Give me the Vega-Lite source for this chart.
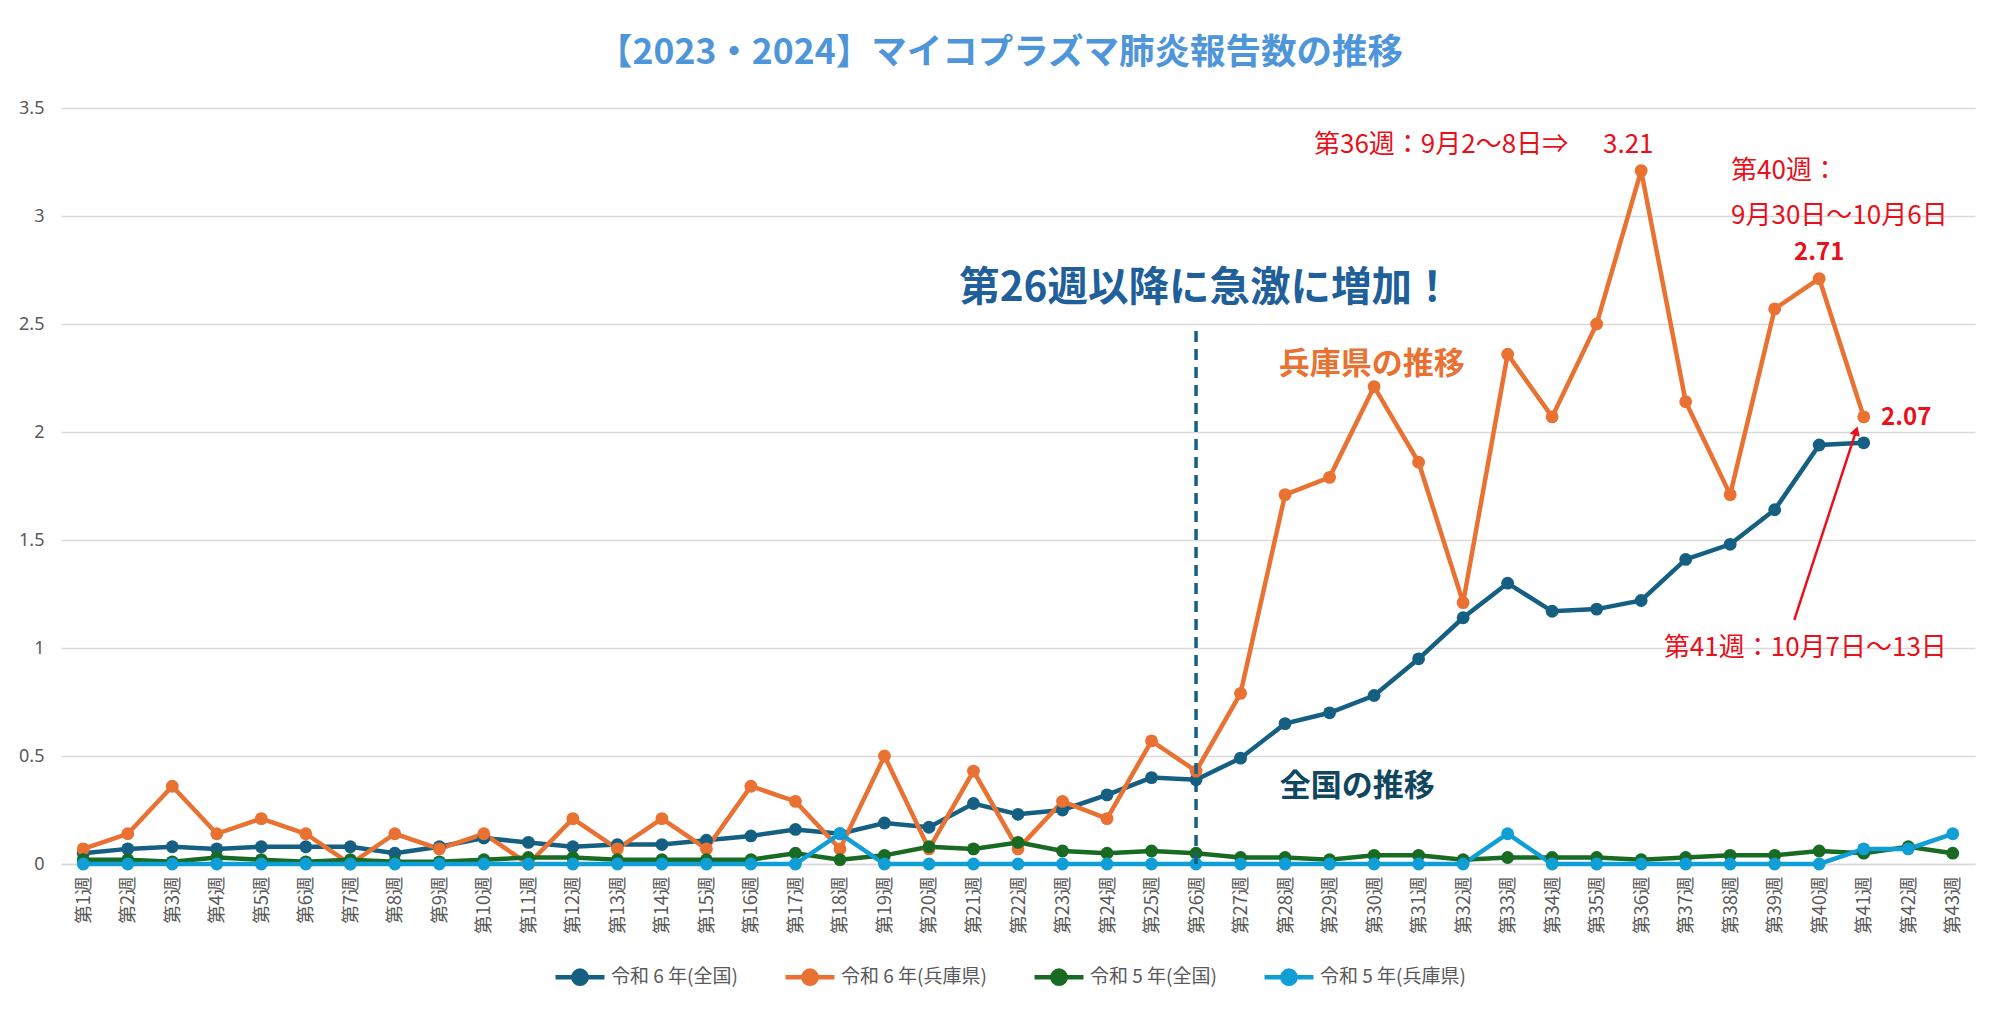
{
  "$schema": "https://vega.github.io/schema/vega-lite/v6.json",
  "width": 1914,
  "height": 756,
  "autosize": "none",
  "padding": {"left": 61, "top": 108, "right": 25, "bottom": 145},
  "background": "white",
  "title": {
    "text": "【2023・2024】マイコプラズマ肺炎報告数の推移",
    "font": "Noto Sans CJK JP",
    "fontSize": 35.5,
    "fontWeight": "bold",
    "color": "#4E95D9",
    "anchor": "middle",
    "dx": -18,
    "offset": 28
  },
  "config": {
    "view": {"stroke": null},
    "font": "Noto Sans CJK JP"
  },
  "datasets": {
    "series": [
      {"week":"第1週","wk":1,"series":"令和 6 年(全国)","value":0.05},
      {"week":"第2週","wk":2,"series":"令和 6 年(全国)","value":0.07},
      {"week":"第3週","wk":3,"series":"令和 6 年(全国)","value":0.08},
      {"week":"第4週","wk":4,"series":"令和 6 年(全国)","value":0.07},
      {"week":"第5週","wk":5,"series":"令和 6 年(全国)","value":0.08},
      {"week":"第6週","wk":6,"series":"令和 6 年(全国)","value":0.08},
      {"week":"第7週","wk":7,"series":"令和 6 年(全国)","value":0.08},
      {"week":"第8週","wk":8,"series":"令和 6 年(全国)","value":0.05},
      {"week":"第9週","wk":9,"series":"令和 6 年(全国)","value":0.08},
      {"week":"第10週","wk":10,"series":"令和 6 年(全国)","value":0.12},
      {"week":"第11週","wk":11,"series":"令和 6 年(全国)","value":0.10},
      {"week":"第12週","wk":12,"series":"令和 6 年(全国)","value":0.08},
      {"week":"第13週","wk":13,"series":"令和 6 年(全国)","value":0.09},
      {"week":"第14週","wk":14,"series":"令和 6 年(全国)","value":0.09},
      {"week":"第15週","wk":15,"series":"令和 6 年(全国)","value":0.11},
      {"week":"第16週","wk":16,"series":"令和 6 年(全国)","value":0.13},
      {"week":"第17週","wk":17,"series":"令和 6 年(全国)","value":0.16},
      {"week":"第18週","wk":18,"series":"令和 6 年(全国)","value":0.14},
      {"week":"第19週","wk":19,"series":"令和 6 年(全国)","value":0.19},
      {"week":"第20週","wk":20,"series":"令和 6 年(全国)","value":0.17},
      {"week":"第21週","wk":21,"series":"令和 6 年(全国)","value":0.28},
      {"week":"第22週","wk":22,"series":"令和 6 年(全国)","value":0.23},
      {"week":"第23週","wk":23,"series":"令和 6 年(全国)","value":0.25},
      {"week":"第24週","wk":24,"series":"令和 6 年(全国)","value":0.32},
      {"week":"第25週","wk":25,"series":"令和 6 年(全国)","value":0.40},
      {"week":"第26週","wk":26,"series":"令和 6 年(全国)","value":0.39},
      {"week":"第27週","wk":27,"series":"令和 6 年(全国)","value":0.49},
      {"week":"第28週","wk":28,"series":"令和 6 年(全国)","value":0.65},
      {"week":"第29週","wk":29,"series":"令和 6 年(全国)","value":0.70},
      {"week":"第30週","wk":30,"series":"令和 6 年(全国)","value":0.78},
      {"week":"第31週","wk":31,"series":"令和 6 年(全国)","value":0.95},
      {"week":"第32週","wk":32,"series":"令和 6 年(全国)","value":1.14},
      {"week":"第33週","wk":33,"series":"令和 6 年(全国)","value":1.30},
      {"week":"第34週","wk":34,"series":"令和 6 年(全国)","value":1.17},
      {"week":"第35週","wk":35,"series":"令和 6 年(全国)","value":1.18},
      {"week":"第36週","wk":36,"series":"令和 6 年(全国)","value":1.22},
      {"week":"第37週","wk":37,"series":"令和 6 年(全国)","value":1.41},
      {"week":"第38週","wk":38,"series":"令和 6 年(全国)","value":1.48},
      {"week":"第39週","wk":39,"series":"令和 6 年(全国)","value":1.64},
      {"week":"第40週","wk":40,"series":"令和 6 年(全国)","value":1.94},
      {"week":"第41週","wk":41,"series":"令和 6 年(全国)","value":1.95},

      {"week":"第1週","wk":1,"series":"令和 6 年(兵庫県)","value":0.07},
      {"week":"第2週","wk":2,"series":"令和 6 年(兵庫県)","value":0.14},
      {"week":"第3週","wk":3,"series":"令和 6 年(兵庫県)","value":0.36},
      {"week":"第4週","wk":4,"series":"令和 6 年(兵庫県)","value":0.14},
      {"week":"第5週","wk":5,"series":"令和 6 年(兵庫県)","value":0.21},
      {"week":"第6週","wk":6,"series":"令和 6 年(兵庫県)","value":0.14},
      {"week":"第7週","wk":7,"series":"令和 6 年(兵庫県)","value":0.0},
      {"week":"第8週","wk":8,"series":"令和 6 年(兵庫県)","value":0.14},
      {"week":"第9週","wk":9,"series":"令和 6 年(兵庫県)","value":0.07},
      {"week":"第10週","wk":10,"series":"令和 6 年(兵庫県)","value":0.14},
      {"week":"第11週","wk":11,"series":"令和 6 年(兵庫県)","value":0.0},
      {"week":"第12週","wk":12,"series":"令和 6 年(兵庫県)","value":0.21},
      {"week":"第13週","wk":13,"series":"令和 6 年(兵庫県)","value":0.07},
      {"week":"第14週","wk":14,"series":"令和 6 年(兵庫県)","value":0.21},
      {"week":"第15週","wk":15,"series":"令和 6 年(兵庫県)","value":0.07},
      {"week":"第16週","wk":16,"series":"令和 6 年(兵庫県)","value":0.36},
      {"week":"第17週","wk":17,"series":"令和 6 年(兵庫県)","value":0.29},
      {"week":"第18週","wk":18,"series":"令和 6 年(兵庫県)","value":0.07},
      {"week":"第19週","wk":19,"series":"令和 6 年(兵庫県)","value":0.50},
      {"week":"第20週","wk":20,"series":"令和 6 年(兵庫県)","value":0.07},
      {"week":"第21週","wk":21,"series":"令和 6 年(兵庫県)","value":0.43},
      {"week":"第22週","wk":22,"series":"令和 6 年(兵庫県)","value":0.07},
      {"week":"第23週","wk":23,"series":"令和 6 年(兵庫県)","value":0.29},
      {"week":"第24週","wk":24,"series":"令和 6 年(兵庫県)","value":0.21},
      {"week":"第25週","wk":25,"series":"令和 6 年(兵庫県)","value":0.57},
      {"week":"第26週","wk":26,"series":"令和 6 年(兵庫県)","value":0.43},
      {"week":"第27週","wk":27,"series":"令和 6 年(兵庫県)","value":0.79},
      {"week":"第28週","wk":28,"series":"令和 6 年(兵庫県)","value":1.71},
      {"week":"第29週","wk":29,"series":"令和 6 年(兵庫県)","value":1.79},
      {"week":"第30週","wk":30,"series":"令和 6 年(兵庫県)","value":2.21},
      {"week":"第31週","wk":31,"series":"令和 6 年(兵庫県)","value":1.86},
      {"week":"第32週","wk":32,"series":"令和 6 年(兵庫県)","value":1.21},
      {"week":"第33週","wk":33,"series":"令和 6 年(兵庫県)","value":2.36},
      {"week":"第34週","wk":34,"series":"令和 6 年(兵庫県)","value":2.07},
      {"week":"第35週","wk":35,"series":"令和 6 年(兵庫県)","value":2.50},
      {"week":"第36週","wk":36,"series":"令和 6 年(兵庫県)","value":3.21},
      {"week":"第37週","wk":37,"series":"令和 6 年(兵庫県)","value":2.14},
      {"week":"第38週","wk":38,"series":"令和 6 年(兵庫県)","value":1.71},
      {"week":"第39週","wk":39,"series":"令和 6 年(兵庫県)","value":2.57},
      {"week":"第40週","wk":40,"series":"令和 6 年(兵庫県)","value":2.71},
      {"week":"第41週","wk":41,"series":"令和 6 年(兵庫県)","value":2.07},

      {"week":"第1週","wk":1,"series":"令和 5 年(全国)","value":0.02},
      {"week":"第2週","wk":2,"series":"令和 5 年(全国)","value":0.02},
      {"week":"第3週","wk":3,"series":"令和 5 年(全国)","value":0.01},
      {"week":"第4週","wk":4,"series":"令和 5 年(全国)","value":0.03},
      {"week":"第5週","wk":5,"series":"令和 5 年(全国)","value":0.02},
      {"week":"第6週","wk":6,"series":"令和 5 年(全国)","value":0.01},
      {"week":"第7週","wk":7,"series":"令和 5 年(全国)","value":0.02},
      {"week":"第8週","wk":8,"series":"令和 5 年(全国)","value":0.01},
      {"week":"第9週","wk":9,"series":"令和 5 年(全国)","value":0.01},
      {"week":"第10週","wk":10,"series":"令和 5 年(全国)","value":0.02},
      {"week":"第11週","wk":11,"series":"令和 5 年(全国)","value":0.03},
      {"week":"第12週","wk":12,"series":"令和 5 年(全国)","value":0.03},
      {"week":"第13週","wk":13,"series":"令和 5 年(全国)","value":0.02},
      {"week":"第14週","wk":14,"series":"令和 5 年(全国)","value":0.02},
      {"week":"第15週","wk":15,"series":"令和 5 年(全国)","value":0.02},
      {"week":"第16週","wk":16,"series":"令和 5 年(全国)","value":0.02},
      {"week":"第17週","wk":17,"series":"令和 5 年(全国)","value":0.05},
      {"week":"第18週","wk":18,"series":"令和 5 年(全国)","value":0.02},
      {"week":"第19週","wk":19,"series":"令和 5 年(全国)","value":0.04},
      {"week":"第20週","wk":20,"series":"令和 5 年(全国)","value":0.08},
      {"week":"第21週","wk":21,"series":"令和 5 年(全国)","value":0.07},
      {"week":"第22週","wk":22,"series":"令和 5 年(全国)","value":0.10},
      {"week":"第23週","wk":23,"series":"令和 5 年(全国)","value":0.06},
      {"week":"第24週","wk":24,"series":"令和 5 年(全国)","value":0.05},
      {"week":"第25週","wk":25,"series":"令和 5 年(全国)","value":0.06},
      {"week":"第26週","wk":26,"series":"令和 5 年(全国)","value":0.05},
      {"week":"第27週","wk":27,"series":"令和 5 年(全国)","value":0.03},
      {"week":"第28週","wk":28,"series":"令和 5 年(全国)","value":0.03},
      {"week":"第29週","wk":29,"series":"令和 5 年(全国)","value":0.02},
      {"week":"第30週","wk":30,"series":"令和 5 年(全国)","value":0.04},
      {"week":"第31週","wk":31,"series":"令和 5 年(全国)","value":0.04},
      {"week":"第32週","wk":32,"series":"令和 5 年(全国)","value":0.02},
      {"week":"第33週","wk":33,"series":"令和 5 年(全国)","value":0.03},
      {"week":"第34週","wk":34,"series":"令和 5 年(全国)","value":0.03},
      {"week":"第35週","wk":35,"series":"令和 5 年(全国)","value":0.03},
      {"week":"第36週","wk":36,"series":"令和 5 年(全国)","value":0.02},
      {"week":"第37週","wk":37,"series":"令和 5 年(全国)","value":0.03},
      {"week":"第38週","wk":38,"series":"令和 5 年(全国)","value":0.04},
      {"week":"第39週","wk":39,"series":"令和 5 年(全国)","value":0.04},
      {"week":"第40週","wk":40,"series":"令和 5 年(全国)","value":0.06},
      {"week":"第41週","wk":41,"series":"令和 5 年(全国)","value":0.05},
      {"week":"第42週","wk":42,"series":"令和 5 年(全国)","value":0.08},
      {"week":"第43週","wk":43,"series":"令和 5 年(全国)","value":0.05},

      {"week":"第1週","wk":1,"series":"令和 5 年(兵庫県)","value":0},
      {"week":"第2週","wk":2,"series":"令和 5 年(兵庫県)","value":0},
      {"week":"第3週","wk":3,"series":"令和 5 年(兵庫県)","value":0},
      {"week":"第4週","wk":4,"series":"令和 5 年(兵庫県)","value":0},
      {"week":"第5週","wk":5,"series":"令和 5 年(兵庫県)","value":0},
      {"week":"第6週","wk":6,"series":"令和 5 年(兵庫県)","value":0},
      {"week":"第7週","wk":7,"series":"令和 5 年(兵庫県)","value":0},
      {"week":"第8週","wk":8,"series":"令和 5 年(兵庫県)","value":0},
      {"week":"第9週","wk":9,"series":"令和 5 年(兵庫県)","value":0},
      {"week":"第10週","wk":10,"series":"令和 5 年(兵庫県)","value":0},
      {"week":"第11週","wk":11,"series":"令和 5 年(兵庫県)","value":0},
      {"week":"第12週","wk":12,"series":"令和 5 年(兵庫県)","value":0},
      {"week":"第13週","wk":13,"series":"令和 5 年(兵庫県)","value":0},
      {"week":"第14週","wk":14,"series":"令和 5 年(兵庫県)","value":0},
      {"week":"第15週","wk":15,"series":"令和 5 年(兵庫県)","value":0},
      {"week":"第16週","wk":16,"series":"令和 5 年(兵庫県)","value":0},
      {"week":"第17週","wk":17,"series":"令和 5 年(兵庫県)","value":0},
      {"week":"第18週","wk":18,"series":"令和 5 年(兵庫県)","value":0.14},
      {"week":"第19週","wk":19,"series":"令和 5 年(兵庫県)","value":0},
      {"week":"第20週","wk":20,"series":"令和 5 年(兵庫県)","value":0},
      {"week":"第21週","wk":21,"series":"令和 5 年(兵庫県)","value":0},
      {"week":"第22週","wk":22,"series":"令和 5 年(兵庫県)","value":0},
      {"week":"第23週","wk":23,"series":"令和 5 年(兵庫県)","value":0},
      {"week":"第24週","wk":24,"series":"令和 5 年(兵庫県)","value":0},
      {"week":"第25週","wk":25,"series":"令和 5 年(兵庫県)","value":0},
      {"week":"第26週","wk":26,"series":"令和 5 年(兵庫県)","value":0},
      {"week":"第27週","wk":27,"series":"令和 5 年(兵庫県)","value":0},
      {"week":"第28週","wk":28,"series":"令和 5 年(兵庫県)","value":0},
      {"week":"第29週","wk":29,"series":"令和 5 年(兵庫県)","value":0},
      {"week":"第30週","wk":30,"series":"令和 5 年(兵庫県)","value":0},
      {"week":"第31週","wk":31,"series":"令和 5 年(兵庫県)","value":0},
      {"week":"第32週","wk":32,"series":"令和 5 年(兵庫県)","value":0},
      {"week":"第33週","wk":33,"series":"令和 5 年(兵庫県)","value":0.14},
      {"week":"第34週","wk":34,"series":"令和 5 年(兵庫県)","value":0},
      {"week":"第35週","wk":35,"series":"令和 5 年(兵庫県)","value":0},
      {"week":"第36週","wk":36,"series":"令和 5 年(兵庫県)","value":0},
      {"week":"第37週","wk":37,"series":"令和 5 年(兵庫県)","value":0},
      {"week":"第38週","wk":38,"series":"令和 5 年(兵庫県)","value":0},
      {"week":"第39週","wk":39,"series":"令和 5 年(兵庫県)","value":0},
      {"week":"第40週","wk":40,"series":"令和 5 年(兵庫県)","value":0},
      {"week":"第41週","wk":41,"series":"令和 5 年(兵庫県)","value":0.07},
      {"week":"第42週","wk":42,"series":"令和 5 年(兵庫県)","value":0.07},
      {"week":"第43週","wk":43,"series":"令和 5 年(兵庫県)","value":0.14}
    ]
  },
  "resolve": {"scale": {"x": "independent"}},
  "layer": [
    {
      "data": {"name": "series"},
      "mark": {"type": "line", "strokeWidth": 4.5, "point": {"size": 165, "filled": true}},
      "encoding": {
        "x": {
          "field": "week",
          "type": "ordinal",
          "sort": {"field": "wk", "op": "min"},
          "axis": {
            "title": null,
            "labelAngle": -90,
            "ticks": false,
            "labelPadding": 12,
            "labelFont": "Noto Sans CJK JP",
            "labelFontSize": 18.5,
            "labelColor": "#595959",
            "domainColor": "#d9d9d9",
            "domainWidth": 1.5,
            "grid": false
          }
        },
        "y": {
          "field": "value",
          "type": "quantitative",
          "scale": {"domain": [0, 3.5], "nice": false},
          "axis": {
            "title": null,
            "values": [0, 0.5, 1, 1.5, 2, 2.5, 3, 3.5],
            "format": "~g",
            "ticks": false,
            "domain": false,
            "labelPadding": 17,
            "labelFont": "Noto Sans",
            "labelFontSize": 18,
            "labelColor": "#595959",
            "gridColor": "#d9d9d9",
            "gridWidth": 1.5
          }
        },
        "color": {
          "field": "series",
          "type": "nominal",
          "sort": ["令和 6 年(全国)", "令和 6 年(兵庫県)", "令和 5 年(全国)", "令和 5 年(兵庫県)"],
          "scale": {
            "domain": ["令和 6 年(全国)", "令和 6 年(兵庫県)", "令和 5 年(全国)", "令和 5 年(兵庫県)"],
            "range": ["#156082", "#E97132", "#196B24", "#0F9ED5"]
          },
          "legend": {
            "title": null,
            "orient": "none",
            "direction": "horizontal",
            "columns": 4,
            "legendX": 492,
            "legendY": 842,
            "padding": 0,
            "columnPadding": 38,
            "labelOffset": 4,
            "labelFont": "Noto Sans CJK JP",
            "labelFontSize": 19,
            "labelColor": "#595959",
            "symbolType": "M-1,0L1,0M0.27,0A0.27,0.27 0 1,1 -0.27,0A0.27,0.27 0 1,1 0.27,0Z",
            "symbolSize": 2401,
            "symbolStrokeWidth": 4.5
          }
        }
      }
    },
    {
      "encoding": {
        "x": {"field": "wx", "type": "quantitative", "scale": {"domain": [0.5, 43.5], "nice": false, "zero": false}, "axis": null},
        "y": {"field": "value", "type": "quantitative"}
      },
      "layer": [
        {
          "data": {"values": [{"wx": 26, "value": 0, "value2": 2.48}]},
          "mark": {"type": "rule", "color": "#156082", "strokeWidth": 3.5, "strokeDash": [11, 7]},
          "encoding": {"y2": {"field": "value2"}}
        },
        {
          "data": {"values": [{"wx": 39.44, "value": 1.13, "wx2": 40.83, "value2": 2.005}]},
          "mark": {"type": "rule", "color": "#E8101A", "strokeWidth": 2.5},
          "encoding": {"x2": {"field": "wx2"}, "y2": {"field": "value2"}}
        },
        {
          "data": {"values": [{"wx": 40.83, "value": 2.005}]},
          "mark": {"type": "point", "shape": "triangle-up", "filled": true, "color": "#E8101A", "size": 110, "angle": 18, "opacity": 1}
        },
        {
          "data": {"values": [
            {"wx": 38.02, "value": 3.21, "label": "第40週："},
            {"wx": 38.02, "value": 3.0, "label": "9月30日〜10月6日"},
            {"wx": 36.51, "value": 1.0, "label": "第41週：10月7日〜13日"}
          ]},
          "mark": {"type": "text", "align": "left", "baseline": "middle", "font": "Noto Sans CJK JP", "fontSize": 26, "color": "#E8101A"},
          "encoding": {"text": {"field": "label"}}
        },
        {
          "data": {"values": [{"wx": 34.36, "value": 3.33, "label": "第36週：9月2〜8日⇒"}]},
          "mark": {"type": "text", "align": "right", "baseline": "middle", "font": "Noto Sans CJK JP", "fontSize": 26, "color": "#E8101A"},
          "encoding": {"text": {"field": "label"}}
        },
        {
          "data": {"values": [{"wx": 35.71, "value": 3.33, "label": "3.21"}]},
          "mark": {"type": "text", "align": "center", "baseline": "middle", "font": "Noto Sans CJK JP", "fontSize": 26, "color": "#E8101A"},
          "encoding": {"text": {"field": "label"}}
        },
        {
          "data": {"values": [{"wx": 40, "value": 2.83, "label": "2.71"}]},
          "mark": {"type": "text", "align": "center", "baseline": "middle", "font": "Noto Sans CJK JP", "fontSize": 24, "fontWeight": "bold", "color": "#E8101A"},
          "encoding": {"text": {"field": "label"}}
        },
        {
          "data": {"values": [{"wx": 41.39, "value": 2.065, "label": "2.07"}]},
          "mark": {"type": "text", "align": "left", "baseline": "middle", "font": "Noto Sans CJK JP", "fontSize": 24, "fontWeight": "bold", "color": "#E8101A"},
          "encoding": {"text": {"field": "label"}}
        },
        {
          "data": {"values": [{"wx": 26.22, "value": 2.66, "label": "第26週以降に急激に増加！"}]},
          "mark": {"type": "text", "align": "center", "baseline": "middle", "font": "Noto Sans CJK JP", "fontSize": 40.5, "fontWeight": "bold", "color": "#215F9A"},
          "encoding": {"text": {"field": "label"}}
        },
        {
          "data": {"values": [{"wx": 29.95, "value": 2.31, "label": "兵庫県の推移"}]},
          "mark": {"type": "text", "align": "center", "baseline": "middle", "font": "Noto Sans CJK JP", "fontSize": 31, "fontWeight": "bold", "color": "#E97132"},
          "encoding": {"text": {"field": "label"}}
        },
        {
          "data": {"values": [{"wx": 29.62, "value": 0.356, "label": "全国の推移"}]},
          "mark": {"type": "text", "align": "center", "baseline": "middle", "font": "Noto Sans CJK JP", "fontSize": 31, "fontWeight": "bold", "color": "#10475F"},
          "encoding": {"text": {"field": "label"}}
        }
      ]
    }
  ]
}
